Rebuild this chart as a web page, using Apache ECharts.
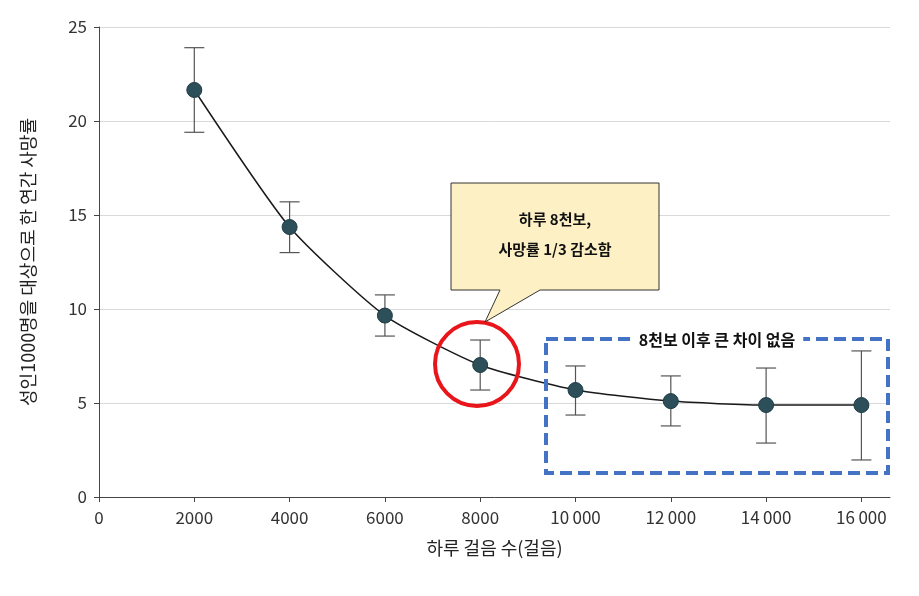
<!DOCTYPE html>
<html><head><meta charset="utf-8">
<script src="https://cdn.jsdelivr.net/npm/echarts@6/dist/echarts.min.js"></script>
<style>html,body{margin:0;background:#fff}#c{width:919px;height:596px}</style>
</head><body><div id="c"></div>
<script>
var steps = [2000, 4000, 6000, 8000, 10000, 12000, 14000, 16000];
var rate = [21.65, 14.36, 9.65, 7.02, 5.69, 5.1, 4.89, 4.89];
var errHigh = [23.9, 15.7, 10.75, 8.35, 6.97, 6.44, 6.86, 7.77];
var errLow = [19.4, 13.0, 8.56, 5.69, 4.36, 3.78, 2.87, 1.97];

var font = '"Noto Sans CJK KR", "Noto Sans", sans-serif';
var chart = echarts.init(document.getElementById('c'));

var lineData = steps.map(function (s, i) { return [s, rate[i]]; });
var errData = steps.map(function (s, i) { return [s, errLow[i], errHigh[i]]; });

chart.setOption({
    animation: false,
    grid: { left: 99, right: 29, top: 27, bottom: 99 },
    xAxis: {
        type: 'value', min: 0, max: 16600, interval: 2000,
        name: '하루 걸음 수(걸음)', nameLocation: 'middle', nameGap: 42,
        nameTextStyle: { fontFamily: font, fontSize: 18, color: '#222' },
        axisLine: { lineStyle: { color: '#444' } },
        axisTick: { show: true, lineStyle: { color: '#444' } },
        splitLine: { show: false },
        axisLabel: {
            fontFamily: font, fontSize: 17, color: '#333', margin: 12,
            formatter: function (v) { return v >= 10000 ? String(v).replace(/(\d+)(\d{3})$/, '$1\u2009$2') : v; },
            showMaxLabel: false
        }
    },
    yAxis: {
        type: 'value', min: 0, max: 25, interval: 5,
        name: '성인1000명을 대상으로 한 연간 사망률', nameLocation: 'middle', nameGap: 62,
        nameTextStyle: { fontFamily: font, fontSize: 18, color: '#222' },
        axisLine: { show: true, lineStyle: { color: '#444' } },
        axisTick: { show: true, lineStyle: { color: '#444' } },
        splitLine: { lineStyle: { color: '#d9d9d9' } },
        axisLabel: { fontFamily: font, fontSize: 17, color: '#333', margin: 12 }
    },
    series: [
        {
            type: 'custom', data: errData, z: 2,
            renderItem: function (params, api) {
                var lo = api.coord([api.value(0), api.value(1)]);
                var hi = api.coord([api.value(0), api.value(2)]);
                var w = 10;
                var st = { stroke: '#555', lineWidth: 1.2 };
                return { type: 'group', children: [
                    { type: 'line', shape: { x1: lo[0], y1: lo[1], x2: hi[0], y2: hi[1] }, style: st },
                    { type: 'line', shape: { x1: lo[0] - w, y1: lo[1], x2: lo[0] + w, y2: lo[1] }, style: st },
                    { type: 'line', shape: { x1: hi[0] - w, y1: hi[1], x2: hi[0] + w, y2: hi[1] }, style: st }
                ] };
            }
        },
        {
            type: 'line', data: lineData, smooth: 0.2, z: 3,
            symbol: 'circle', symbolSize: 15,
            lineStyle: { color: '#1a1a1a', width: 1.5 },
            itemStyle: { color: '#2c4f5a', borderColor: '#1d3a42', borderWidth: 1 }
        }
    ],
    graphic: [
        { type: 'circle', shape: { cx: 477, cy: 364, r: 42 }, style: { fill: 'none', stroke: '#e8161b', lineWidth: 4 }, z: 10 },
        { type: 'polygon', shape: { points: [[451, 183], [659, 183], [659, 290], [540, 290], [485, 322], [500, 290], [451, 290]] },
          style: { fill: '#fdf0c5', stroke: '#333', lineWidth: 1 }, z: 10 },
        { type: 'text', z: 11,
          style: { text: '하루 8천보,\n사망률 1/3 감소함', x: 555, y: 234, textAlign: 'center', textVerticalAlign: 'middle',
                   fontFamily: font, fontSize: 15, fontWeight: 'bold', fill: '#111', lineHeight: 30 } },
        { type: 'rect', shape: { x: 546, y: 339, width: 342, height: 134 }, z: 10,
          style: { fill: 'none', stroke: '#4472c4', lineWidth: 4, lineDash: [12, 6] } },
        { type: 'text', z: 11,
          style: { text: '8천보 이후 큰 차이 없음', x: 717, y: 340, textAlign: 'center', textVerticalAlign: 'middle',
                   fontFamily: font, fontSize: 16, fontWeight: 'bold', fill: '#111',
                   backgroundColor: '#fff', padding: [2, 8] } }
    ]
});
</script></body></html>
